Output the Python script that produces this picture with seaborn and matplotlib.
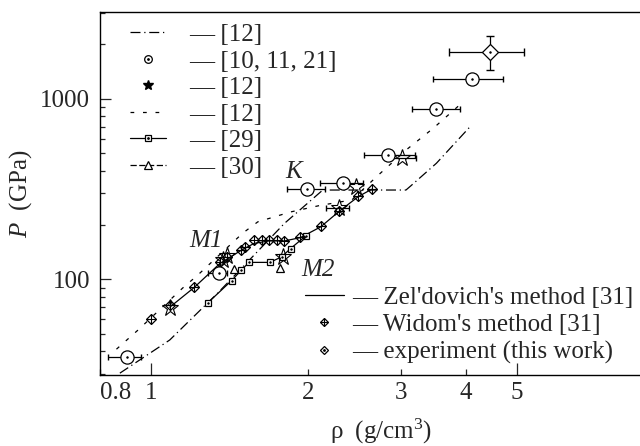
import matplotlib
matplotlib.use("Agg")
import matplotlib.pyplot as plt
from matplotlib.lines import Line2D
from matplotlib.ticker import FixedLocator, FixedFormatter, NullFormatter, LogLocator
import seaborn as sns

# P(rho) data (rho in g/cm3, P in GPa)

# [12] dash-dot curve with the plateau
rho_dd = [0.873, 1.087, 1.343, 1.80, 2.13, 3.07, 3.14, 3.51, 4.07]
p_dd = [30.2, 46.1, 84, 204, 312, 312, 330, 439, 700]

# [12] loosely dashed curve
rho_ds = [0.86, 0.946, 1.151, 1.23, 1.498, 1.601, 1.85, 2.1, 2.42, 2.72, 3.10, 3.46, 3.95]
p_ds = [41, 52.4, 89.5, 105.6, 180, 208, 236, 256, 275, 378, 531, 685, 962]

# [10, 11, 21] circles with density error bars
rho_c = [0.899, 1.349, 1.984, 2.329, 2.84, 3.51, 4.10]
p_c = [37.3, 108, 315, 340, 488, 873, 1285]
rho_c_lo = [0.828, 1.285, 1.816, 2.10, 2.55, 3.15, 3.46]
rho_c_hi = [0.960, 1.40, 2.149, 2.54, 3.19, 3.89, 4.70]

# [12] stars
rho_s = [1.087, 1.374, 1.40, 1.79, 2.286, 2.47, 3.02]
p_s = [69, 128, 134, 133, 247, 326, 471]
rho_s_err = [2.286, 3.02]
p_s_err = [247, 471]
rho_s_lo = [2.165, 2.85]
rho_s_hi = [2.39, 3.21]

# [29] squares
rho_sq = [1.286, 1.426, 1.49, 1.54, 1.688, 1.777, 1.849, 1.977]
p_sq = [74.2, 98.2, 112.6, 124, 124, 133, 148, 174]

# [30] triangles
rho_t = [1.443, 1.764]
p_t = [113.6, 115]

# Zel'dovich's method [31]
rho_z = [1.087, 1.21, 1.354, 1.49, 1.575, 1.68, 1.80, 1.93, 2.11, 2.29, 2.49, 2.64]
p_z = [70, 90, 122, 145, 158, 163, 163, 170, 195, 238, 287, 315]

# Widom's method [31]
rho_w = [1.0, 1.087, 1.21, 1.354, 1.40, 1.49, 1.51, 1.575, 1.627, 1.682, 1.738, 1.795,
         1.926, 2.11, 2.29, 2.49, 2.64]
p_w = [60, 72, 91, 125, 132, 145, 151, 165, 165, 165, 165, 163, 172, 197, 240, 289, 318]

# experiment (this work)
rho_e = [4.44]
p_e = [1820]
rho_e_lo = [3.71]
rho_e_hi = [5.16]
p_e_lo = [1442]
p_e_hi = [2234]

sns.set_style("ticks")
plt.rcParams['font.family'] = ['Liberation Serif', 'DejaVu Serif']
plt.rcParams['mathtext.fontset'] = 'custom'
plt.rcParams['mathtext.rm'] = 'Liberation Serif'
plt.rcParams['mathtext.it'] = 'Liberation Serif:italic'

fs = 18
dd = (0, (8, 3, 1, 3))
loose = (0, (3, 7))

fig = plt.figure(figsize=(6.4, 4.46), dpi=100)
ax = fig.add_axes([100 / 640, 1 - 375 / 446, 540 / 640, 363 / 446])
ax.set_xscale('log')
ax.set_yscale('log')

# curves
sns.lineplot(x=rho_dd, y=p_dd, sort=False, estimator=None, color='black', lw=0.9,
             linestyle=dd, ax=ax)
sns.lineplot(x=rho_ds, y=p_ds, sort=False, estimator=None, color='black', lw=0.9,
             linestyle=loose, ax=ax)
sns.lineplot(x=rho_z, y=p_z, sort=False, estimator=None, color='black', lw=0.9, ax=ax)
sns.lineplot(x=rho_sq, y=p_sq, sort=False, estimator=None, color='black', lw=0.9,
             marker='s', markersize=5, mfc='white', mec='black', mew=0.9, ax=ax)
sns.lineplot(x=rho_sq, y=p_sq, sort=False, estimator=None, color='black', linestyle='none',
             marker='.', markersize=2, mec='black', ax=ax)
sns.lineplot(x=rho_t, y=p_t, sort=False, estimator=None, color='black', linestyle='none',
             marker='^', markersize=5.5, mfc='white', mec='black', mew=0.9, ax=ax)

# Widom's points: diamond with a cross
sns.lineplot(x=rho_w, y=p_w, sort=False, estimator=None, color='black', linestyle='none',
             marker='D', markersize=4.6, mfc='none', mec='black', mew=0.9, ax=ax)
sns.lineplot(x=rho_w, y=p_w, sort=False, estimator=None, color='black', linestyle='none',
             marker='+', markersize=6.5, mec='black', mew=0.8, ax=ax)

# stars
ax.errorbar(rho_s_err, p_s_err,
            xerr=[[a - b for a, b in zip(rho_s_err, rho_s_lo)],
                  [b - a for a, b in zip(rho_s_err, rho_s_hi)]],
            fmt='none', ecolor='black', elinewidth=0.9, capsize=2.5, zorder=3)
sns.lineplot(x=rho_s, y=p_s, sort=False, estimator=None, color='black', linestyle='none',
             marker='*', markersize=12.5, mfc='none', mec='black', mew=0.8, ax=ax)

# circles
ax.errorbar(rho_c, p_c,
            xerr=[[a - b for a, b in zip(rho_c, rho_c_lo)],
                  [b - a for a, b in zip(rho_c, rho_c_hi)]],
            fmt='none', ecolor='black', elinewidth=0.9, capsize=2.5, zorder=3)
sns.lineplot(x=rho_c, y=p_c, sort=False, estimator=None, color='black', linestyle='none',
             marker='o', markersize=9.5, mfc='white', mec='black', mew=0.9, ax=ax, zorder=4)
sns.lineplot(x=rho_c, y=p_c, sort=False, estimator=None, color='black', linestyle='none',
             marker='.', markersize=2, mec='black', ax=ax, zorder=5)

# experiment
ax.errorbar(rho_e, p_e,
            xerr=[[rho_e[0] - rho_e_lo[0]], [rho_e_hi[0] - rho_e[0]]],
            yerr=[[p_e[0] - p_e_lo[0]], [p_e_hi[0] - p_e[0]]],
            fmt='none', ecolor='black', elinewidth=0.9, capsize=3, zorder=3)
sns.lineplot(x=rho_e, y=p_e, sort=False, estimator=None, color='black', linestyle='none',
             marker='D', markersize=8.5, mfc='white', mec='black', mew=0.9, ax=ax, zorder=4)
sns.lineplot(x=rho_e, y=p_e, sort=False, estimator=None, color='black', linestyle='none',
             marker='.', markersize=2, mec='black', ax=ax, zorder=5)

# annotations
ax.text(1.87, 393, 'K', fontsize=fs, style='italic', ha='center', va='center')
ax.text(1.277, 163, 'M1', fontsize=fs, style='italic', ha='center', va='center')
ax.text(2.087, 113, 'M2', fontsize=fs, style='italic', ha='center', va='center')

# axes
ax.set_xlim(0.8, 10 ** (489 / 523.6))
ax.set_ylim(29.5, 3020)
ax.xaxis.set_major_locator(FixedLocator([1, 5]))
ax.xaxis.set_major_formatter(FixedFormatter(['1', '5']))
ax.xaxis.set_minor_locator(FixedLocator([0.8, 2, 3, 4]))
ax.xaxis.set_minor_formatter(FixedFormatter(['0.8', '2', '3', '4']))
ax.yaxis.set_major_locator(FixedLocator([100, 1000]))
ax.yaxis.set_major_formatter(FixedFormatter(['100', '1000']))
ax.yaxis.set_minor_locator(LogLocator(base=10, subs=range(2, 10)))
ax.yaxis.set_minor_formatter(NullFormatter())
ax.tick_params(axis='x', which='major', direction='in', length=9, width=0.9,
               labelsize=fs, pad=5)
ax.tick_params(axis='x', which='minor', direction='in', length=4, width=0.9,
               labelsize=fs, pad=5)
ax.tick_params(axis='y', which='major', direction='in', length=8, width=0.9,
               labelsize=fs, pad=7)
ax.tick_params(axis='y', which='minor', direction='in', length=3.5, width=0.9)
ax.spines['right'].set_visible(False)
for s in ['left', 'top', 'bottom']:
    ax.spines[s].set_linewidth(1.0)
    ax.spines[s].set_color('black')

ax.set_xlabel(r'ρ  (g/cm$^{3}$)', fontsize=fs)
ax.set_ylabel(r'$P$  (GPa)', fontsize=fs)
ax.xaxis.set_label_coords(0.52, -0.115)
ax.yaxis.set_label_coords(-0.122, 0.5)

fig.canvas.draw()
for lab in ax.get_xticklabels(minor=True):
    if lab.get_text() == '0.8':
        lab.set_ha('left')

# legends
dot = Line2D([], [], ls='none', marker='.', ms=2, color='black')
h1 = [
    Line2D([], [], color='black', lw=0.9, ls=dd),
    (Line2D([], [], ls='none', marker='o', ms=5.5, mfc='white', mec='black', mew=0.9), dot),
    Line2D([], [], ls='none', marker='*', ms=7, color='black'),
    Line2D([], [], color='black', lw=0.9, ls=loose),
    (Line2D([], [], color='black', lw=0.9, marker='s', ms=5, mfc='white', mec='black', mew=0.9), dot),
    Line2D([], [], color='black', lw=0.9, ls=(0, (5, 2)), marker='^', ms=5.5, mfc='white',
           mec='black', mew=0.9),
]
l1 = ['— [12]', '— [10, 11, 21]', '— [12]', '— [12]', '— [29]', '— [30]']
leg1 = ax.legend(h1, l1, loc='upper left', bbox_to_anchor=(0.0556, 0.968), frameon=False,
                 fontsize=fs, handlelength=1.45, handletextpad=0.9, labelspacing=0.16,
                 borderpad=0, borderaxespad=0)
ax.add_artist(leg1)

h2 = [
    Line2D([], [], color='black', lw=0.9),
    (Line2D([], [], ls='none', marker='D', ms=4.2, mfc='none', mec='black', mew=0.9),
     Line2D([], [], ls='none', marker='+', ms=6, mec='black', mew=0.8)),
    (Line2D([], [], ls='none', marker='D', ms=4, mfc='white', mec='black', mew=0.9), dot),
]
l2 = ["— Zel'dovich's method [31]", "— Widom's method [31]", '— experiment (this work)']
ax.legend(h2, l2, loc='upper left', bbox_to_anchor=(0.3796, 0.245), frameon=False,
          fontsize=fs, handlelength=1.55, handletextpad=0.35, labelspacing=0.2,
          borderpad=0, borderaxespad=0)

fig.savefig('out.png', dpi=100)
